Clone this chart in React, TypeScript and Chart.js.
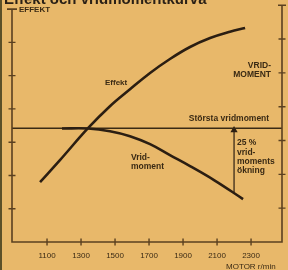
import React, { useEffect, useRef } from "react";
import { Chart, registerables } from "chart.js";
Chart.register(...registerables);

const titleText = "Effekt och vridmomentkurva";
const rpmTicks = [1100, 1300, 1500, 1700, 1900, 2100, 2300];
const leftTicks = [1, 2, 3, 4, 5, 6, 7];
const rightTicks = [1, 2, 3, 4, 5, 6, 7];
const effektRpm = [1059, 1176, 1341, 1470, 1588, 1706, 1823, 1941, 2059, 2176, 2265];
const effektValues = [1.8, 2.46, 3.42, 4.08, 4.59, 5.08, 5.5, 5.86, 6.13, 6.32, 6.43];
const vridRpm = [1188, 1341, 1470, 1588, 1706, 1823, 1941, 2082, 2253];
const vridValues = [3.41, 3.41, 3.33, 3.18, 2.94, 2.61, 2.28, 1.86, 1.29];
const maxVridRpm = [894, 2482];
const maxVridValue = 3.42;
const okningRpm = 2200;
const okningFrom = 1.5;
const okningTo = 3.36;

const BG = "#e8b86a";
const INK = "#2b1e12";
const TXT = "#3a2a14";
const AXIS = "#5a4020";
const FONT = "'Liberation Sans', Arial, sans-serif";

export default function App() {
  const ref = useRef<HTMLCanvasElement | null>(null);
  useEffect(() => {
    if (!ref.current) return;
    const deco = {
      id: "deco",
      beforeDraw(chart: any) {
        const c = chart.ctx;
        c.save();
        c.fillStyle = BG;
        c.fillRect(0, 0, chart.width, chart.height);
        c.fillStyle = "#5c5028";
        c.fillRect(0, 0, 2, chart.height);
        c.restore();
      },
      afterDraw(chart: any) {
        const c = chart.ctx;
        const xs = chart.scales.x;
        const yl = chart.scales.y;
        const yr = chart.scales.y2;
        const ca = chart.chartArea;
        c.save();
        c.fillStyle = "#2a2016";
        c.font = `bold 15px ${FONT}`;
        c.textBaseline = "alphabetic";
        c.textAlign = "left";
        c.fillText(titleText, 4, 3.5);
        c.strokeStyle = AXIS;
        c.lineWidth = 1.6;
        const lx = ca.left;
        const rx = ca.right;
        const by = ca.bottom;
        c.beginPath();
        c.moveTo(lx, yl.getPixelForValue(7));
        c.lineTo(lx, by);
        c.lineTo(rx, by);
        c.lineTo(rx, yr.getPixelForValue(7));
        c.stroke();
        c.beginPath();
        c.moveTo(lx - 5, yl.getPixelForValue(7));
        c.lineTo(lx + 5, yl.getPixelForValue(7));
        c.moveTo(rx - 4, yr.getPixelForValue(7));
        c.lineTo(rx + 4, yr.getPixelForValue(7));
        c.stroke();
        c.lineWidth = 1.4;
        c.beginPath();
        leftTicks.slice(0, -1).forEach((v) => {
          const y = yl.getPixelForValue(v);
          c.moveTo(lx - 3.5, y);
          c.lineTo(lx + 3.5, y);
        });
        rightTicks.slice(0, -1).forEach((v) => {
          const y = yr.getPixelForValue(v);
          c.moveTo(rx - 3.5, y);
          c.lineTo(rx + 3.5, y);
        });
        rpmTicks.forEach((v) => {
          const x = xs.getPixelForValue(v);
          c.moveTo(x, by - 3.5);
          c.lineTo(x, by + 3.5);
        });
        c.stroke();
        c.fillStyle = TXT;
        c.textBaseline = "middle";
        const t = (s: string, x: number, y: number, align: any = "left", size = 9, bold = true) => {
          c.font = `${bold ? "bold " : ""}${size}px ${FONT}`;
          c.textAlign = align;
          c.fillText(s, x, y);
        };
        t("EFFEKT", 19, 10, "left", 8);
        t("Effekt", 105, 83, "left", 8);
        t("VRID-", 271, 66, "right", 8.5);
        t("MOMENT", 271, 75, "right", 8.5);
        t("Största vridmoment", 229, 119, "center", 8.5);
        t("Vrid-", 131, 158, "left", 8.5);
        t("moment", 131, 167, "left", 8.5);
        t("25 %", 237, 143, "left", 8.5);
        t("vrid-", 237, 152.5, "left", 8.5);
        t("moments", 237, 161.5, "left", 8.5);
        t("ökning", 237, 170.5, "left", 8.5);
        t("MOTOR r/min", 226, 267, "left", 8, false);
        c.restore();
      },
    };
    const chart = new Chart(ref.current, {
      type: "line",
      data: {
        datasets: [
          {
            label: "Effekt",
            data: effektRpm.map((x, i) => ({ x, y: effektValues[i] })),
            borderColor: INK,
            borderWidth: 2.6,
            pointRadius: 0,
            tension: 0.4,
            fill: false,
          },
          {
            label: "Vridmoment",
            data: vridRpm.map((x, i) => ({ x, y: vridValues[i] })),
            borderColor: INK,
            borderWidth: 2.6,
            pointRadius: 0,
            tension: 0.4,
            fill: false,
          },
          {
            label: "Största vridmoment",
            data: maxVridRpm.map((x) => ({ x, y: maxVridValue })),
            borderColor: "#3a2a14",
            borderWidth: 1.5,
            pointRadius: 0,
            fill: false,
          },
          {
            label: "25 % vridmoments ökning",
            data: [
              { x: okningRpm, y: okningFrom },
              { x: okningRpm, y: okningTo },
            ],
            borderColor: INK,
            backgroundColor: INK,
            borderWidth: 1.2,
            pointRadius: [0, 3],
            pointStyle: "triangle",
            fill: false,
          },
        ],
      } as any,
      options: {
        animation: false,
        responsive: false,
        events: [],
        layout: { padding: { top: 5, left: 0, right: 0, bottom: 0 } },
        plugins: { legend: { display: false }, tooltip: { enabled: false }, title: { display: false } },
        scales: {
          x: {
            type: "linear",
            min: 894,
            max: 2482,
            afterBuildTicks: (s: any) => {
              s.ticks = rpmTicks.map((v) => ({ value: v }));
            },
            afterFit: (s: any) => {
              s.height = 28;
            },
            grid: { display: false, drawTicks: false },
            border: { display: false },
            ticks: {
              padding: 9,
              color: TXT,
              font: { size: 8, family: FONT },
              maxRotation: 0,
              autoSkip: false,
              callback: (v: any) => String(v),
            },
          },
          y: {
            position: "left",
            min: 0,
            max: 7.117,
            afterFit: (s: any) => {
              s.width = 12;
            },
            grid: { display: false, drawTicks: false },
            border: { display: false },
            ticks: { display: false },
          },
          y2: {
            position: "right",
            min: 0,
            max: 7,
            afterFit: (s: any) => {
              s.width = 6;
            },
            grid: { display: false, drawTicks: false },
            border: { display: false },
            ticks: { display: false },
          },
        },
      } as any,
      plugins: [deco],
    });
    return () => chart.destroy();
  }, []);
  return (
    <div style={{ position: "fixed", left: 0, top: 0, width: 288, height: 270, background: BG }}>
      <canvas ref={ref} width={288} height={270} style={{ display: "block" }} />
    </div>
  );
}
